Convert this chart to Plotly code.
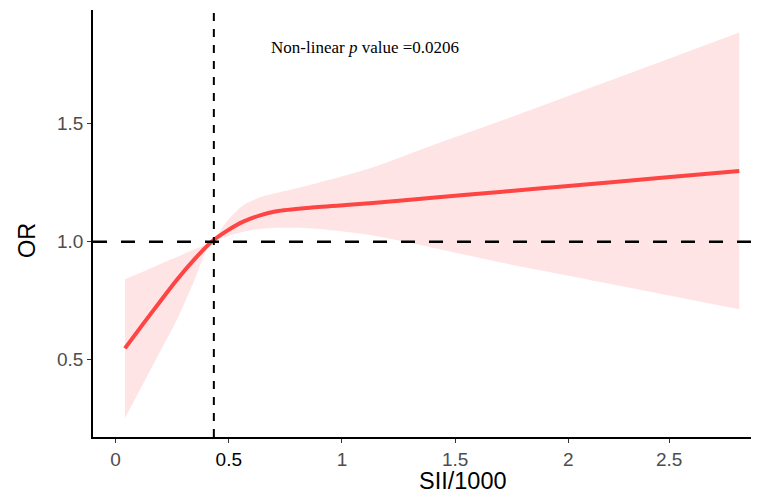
import plotly.graph_objects as go

# Data
sii = [0.041, 0.12, 0.196, 0.27, 0.343, 0.424, 0.49, 0.564, 0.638, 0.711, 0.858,
       1.124, 1.4, 1.698, 2.0, 2.4, 2.756]
or_fit = [0.548, 0.650, 0.746, 0.838, 0.920, 1.0, 1.045, 1.085, 1.112, 1.129, 1.144,
          1.163, 1.186, 1.211, 1.236, 1.270, 1.300]
or_upper = [0.841, 0.873, 0.905, 0.935, 0.966, 1.0, 1.085, 1.155, 1.188, 1.206, 1.240,
            1.311, 1.409, 1.511, 1.618, 1.760, 1.887]
or_lower = [0.252, 0.395, 0.534, 0.668, 0.824, 1.0, 1.021, 1.042, 1.054, 1.059, 1.057,
            1.028, 0.975, 0.913, 0.856, 0.781, 0.714]
ref_x = 0.434
x_tickvals = [0, 0.5, 1, 1.5, 2, 2.446]  # "2.5" label sits here in the reference
x_ticktext = ["0", "<span style='color:black'>0.5</span>", "1", "1.5", "2", "2.5"]
y_tickvals = [0.5, 1.0, 1.5]
y_ticktext = ["0.5", "1.0", "1.5"]

# The page body has an 8px margin, so the figure is drawn 8px in from the window corner.
OFF = 8
W, H = 759 - OFF, 494 - OFF
ml, mr, mt, mb = 93 - OFF, 0, 10 - OFF, 57
pw, ph = W - ml - mr, H - mt - mb


def px_to_paper(px, py):
    # px, py are window pixel coordinates
    return (px - OFF - ml) / pw, ((H - mb) - (py - OFF)) / ph


fig = go.Figure()
fig.add_trace(go.Scatter(x=sii, y=or_upper, mode="lines",
                         line=dict(width=0, shape="spline", smoothing=0.8),
                         hoverinfo="skip", showlegend=False))
fig.add_trace(go.Scatter(x=sii, y=or_lower, mode="lines",
                         line=dict(width=0, shape="spline", smoothing=0.8),
                         fill="tonexty", fillcolor="rgb(255,228,230)", hoverinfo="skip",
                         showlegend=False))
fig.add_trace(go.Scatter(x=sii, y=or_fit, mode="lines",
                         line=dict(color="rgb(255,68,68)", width=4, shape="spline", smoothing=0.8),
                         showlegend=False))

fig.add_shape(type="line", xref="paper", yref="y", x0=0, x1=1, y0=1, y1=1,
              line=dict(color="black", width=2.5, dash="14px,14px"))
fig.add_shape(type="line", xref="x", yref="y", x0=ref_x, x1=ref_x, y0=0.1725, y1=1.973,
              line=dict(color="black", width=2, dash="8px,8px"))

ax, ay = px_to_paper(365, 48)
fig.add_annotation(x=ax, y=ay, xref="paper", yref="paper", xanchor="center", yanchor="middle",
                   text="Non-linear <i>p</i> value =0.0206", showarrow=False,
                   font=dict(family="Liberation Serif", size=17, color="black"))
tx, ty = px_to_paper(463, 481)
fig.add_annotation(x=tx, y=ty, xref="paper", yref="paper", xanchor="center", yanchor="middle",
                   showarrow=False,
                   text="SII/1000", font=dict(family="Liberation Sans", size=23.5, color="black"))
ox, oy = px_to_paper(27, 241)
fig.add_annotation(x=ox, y=oy, xref="paper", yref="paper", xanchor="center", yanchor="middle",
                   showarrow=False, textangle=-90,
                   text="OR", font=dict(family="Liberation Sans", size=23.5, color="black"))

fig.update_layout(
    width=W, height=H, margin=dict(l=ml, r=mr, t=mt, b=mb, pad=0),
    paper_bgcolor="white", plot_bgcolor="white",
    font=dict(family="Liberation Sans"),
    xaxis=dict(range=[-0.100, 2.843], tickvals=x_tickvals, ticktext=x_ticktext,
               automargin=False,
               showgrid=False, zeroline=False, showline=True, linecolor="black", linewidth=1.8,
               ticks="outside", ticklen=4, tickcolor="#333333", tickwidth=1.2,
               tickfont=dict(size=19, color="#4D4D4D")),
    yaxis=dict(range=[0.1725, 1.982], tickvals=y_tickvals, ticktext=y_ticktext,
               automargin=False,
               showgrid=False, zeroline=False, showline=True, linecolor="black", linewidth=1.8,
               ticks="outside", ticklen=4, tickcolor="#333333", tickwidth=1.2,
               tickfont=dict(size=19, color="#4D4D4D")),
)

fig.write_html("out.html")
